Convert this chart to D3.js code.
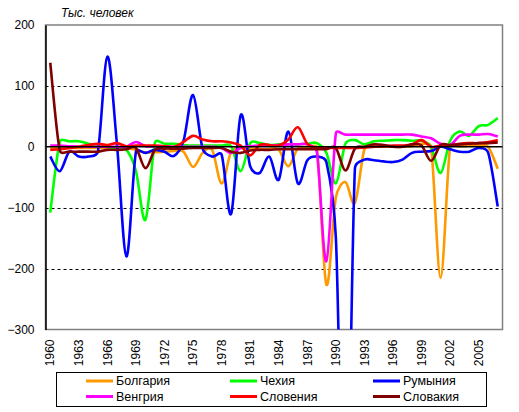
<!DOCTYPE html>
<html>
<head>
<meta charset="utf-8">
<script src="https://cdn.jsdelivr.net/npm/d3@7"></script>
<style>
  body { margin: 0; background: #fff; }
  svg { display: block; font-family: "Liberation Sans", Arial, sans-serif; }
</style>
</head>
<body>
<div id="chart"></div>
<script>
// data, thousands of people

const years = d3.range(1960, 2008)

const bulgaria = [ -2, -2, -2, -2, -2, -2, -2, -2, -2, -5, -9, -9, -8, -7, -8, -33,
  -10, -5, -60, -8, -2, -3, -4, -4, -5, -32, -3, -2, -2, -226, -83, -58, -92, -4,
  0, 0, 0, 0, 1, 5, 0, -215, 0, 1, 2, 2, 0, -36 ]

const czech = [ -108, 8, 9, 9, 5, 1, 0, -4, -5, -40, -120, 7, 5, 5, 3, 2,
  2, 2, 2, 1, -40, 6, 6, 3, 4, 4, 4, 5, 6, -10, -60, 5, 11, 4, 9, 10,
  11, 11, 10, 10, 0, -43, 10, 25, 18, 34, 36, 47 ]

const romania = [ -16, -40, -8, -16, -16, -8, 148, 5, -180, -8, -10, -5, -8, -15, 10, 85,
  -3, -16, -13, -110, 52, -32, -43, -16, -54, 25, -60, -22, -16, -25, -150, -700,
  -35, -21, -22, -24, -25, -21, -10, -8, -7, 0, -4, -8, -8, -2, -10, -98 ]

const hungary = [ 2, 2, 1, 0, 0, 0, 0, 0, 0, 8, 1, 1, 1, 0, 0, 0,
  0, 0, -2, -10, -2, 1, 2, 2, 3, 4, 4, 4, -8, -188, 22, 20, 20, 20, 20, 20,
  20, 20, 20, 17, 14, 5, 3, 18, 20, 20, 21, 17 ]

const slovenia = [ -5, -4, -2, 0, 3, 5, 3, 6, 1, 2, 2, 2, 1, 0, 8, 18,
  12, 9, 9, 7, 2, -14, 3, 3, 2, 12, 32, 5, -2, -2, -2, -2, -2, -1, 0, 1,
  2, 2, 4, 11, 0, 2, 2, 5, 6, 6, 8, 11 ]

const slovakia = [ 138, -6, -8, -8, -8, -8, -5, -5, -4, -2, -35, -5, -3, -3, -3, -2,
  -2, -2, -2, -8, -10, -6, -5, -5, -4, -4, -4, -4, -4, -4, -2, -39, -3, 0, 4, 3,
  0, 0, 4, 2, -23, 3, 3, 4, 5, 6, 6, 7 ]

const series = [
  { name: 'Болгария', color: '#ff9900', values: bulgaria },
  { name: 'Чехия',    color: '#00ff00', values: czech },
  { name: 'Румыния',  color: '#0000ff', values: romania },
  { name: 'Венгрия',  color: '#ff00ff', values: hungary },
  { name: 'Словения', color: '#ff0000', values: slovenia },
  { name: 'Словакия', color: '#800000', values: slovakia }
]

const yTicks = [200, 100, 0, -100, -200, -300]
const xTicks = years.filter( (y) => (y - 1960) % 3 === 0 )

// layout

const W = 519, H = 412
const PLOT = { left: 45.5, right: 502.5, top: 25, bottom: 329.5 }

const x = d3.scalePoint()
  .domain(years)
  .range([PLOT.left, PLOT.right])
  .padding(0.5)

const y = d3.scaleLinear()
  .domain([-300, 200])
  .range([PLOT.bottom, PLOT.top])

// spreadsheet-like smoothing: bezier arms of (next - prev) / 6,
// shortened when the neighbouring segment is much shorter (keeps flats flat)
function smoothPath(pts) {
  const p = d3.path()
  const n = pts.length
  const K = 0.5
  const clamp = (v, max) => {
    let len = Math.hypot(v[0], v[1])
    return len > max ? [v[0] * max / len, v[1] * max / len] : v
  }
  p.moveTo(pts[0][0], pts[0][1])
  for (let i = 0; i < n - 1; i++) {
    let p0 = pts[Math.max(i - 1, 0)], p1 = pts[i], p2 = pts[i + 1], p3 = pts[Math.min(i + 2, n - 1)]
    let seg = Math.hypot(p2[0] - p1[0], p2[1] - p1[1])
    let a = clamp([(p2[0] - p0[0]) / 6, (p2[1] - p0[1]) / 6], seg * K)
    let b = clamp([(p3[0] - p1[0]) / 6, (p3[1] - p1[1]) / 6], seg * K)
    p.bezierCurveTo(p1[0] + a[0], p1[1] + a[1], p2[0] - b[0], p2[1] - b[1], p2[0], p2[1])
  }
  return p.toString()
}

const svg = d3.select('#chart').append('svg')
  .attr('width', W)
  .attr('height', H)

svg.append('defs').append('clipPath').attr('id', 'plot-clip')
  .append('rect')
    .attr('x', PLOT.left).attr('y', PLOT.top)
    .attr('width', PLOT.right - PLOT.left)
    .attr('height', PLOT.bottom - PLOT.top)

// frame
svg.append('rect')
  .attr('x', PLOT.left).attr('y', PLOT.top)
  .attr('width', PLOT.right - PLOT.left)
  .attr('height', PLOT.bottom - PLOT.top)
  .attr('fill', 'none')
  .attr('stroke', '#808080')
  .attr('stroke-width', 1.5)

// dashed grid
svg.append('g')
  .selectAll('line')
  .data(yTicks.filter( (d) => d !== 0 && d !== 200 && d !== -300 ))
  .join('line')
    .attr('x1', PLOT.left).attr('x2', PLOT.right)
    .attr('y1', (d) => Math.round(y(d)) + 0.5)
    .attr('y2', (d) => Math.round(y(d)) + 0.5)
    .attr('stroke', '#000')
    .attr('stroke-dasharray', '3,3')

// value axis
const yAxis = svg.append('g')
  .attr('transform', 'translate(' + PLOT.left + ',0)')
  .call(d3.axisLeft(y).tickValues(yTicks).tickSize(0).tickPadding(11))
yAxis.select('.domain').attr('stroke', '#000').attr('stroke-width', 1.5)
yAxis.selectAll('text').attr('font-size', 12).attr('fill', '#000')
  .attr('font-family', '"Liberation Sans", Arial, sans-serif')

// category axis labels at the bottom, rotated
svg.append('g')
  .attr('font-size', 12)
  .selectAll('text')
  .data(xTicks)
  .join('text')
    .attr('transform', (d) => 'translate(' + x(d) + ',' + (PLOT.bottom + 10) + ') rotate(-90)')
    .attr('text-anchor', 'end')
    .attr('dy', '0.35em')
    .text( (d) => d )

// lines
svg.append('g')
  .attr('clip-path', 'url(#plot-clip)')
  .selectAll('path')
  .data(series)
  .join('path')
    .attr('d', (s) => smoothPath(s.values.map( (v, i) => [x(years[i]), y(v)] )))
    .attr('fill', 'none')
    .attr('stroke', (s) => s.color)
    .attr('stroke-width', 2.6)
    .attr('stroke-linejoin', 'round')

// category axis line at zero
svg.append('line')
  .attr('x1', PLOT.left).attr('x2', PLOT.right)
  .attr('y1', y(0)).attr('y2', y(0))
  .attr('stroke', '#000')
  .attr('stroke-width', 1.5)

// unit title
svg.append('text')
  .attr('x', 61).attr('y', 17)
  .attr('font-size', 12)
  .attr('font-style', 'italic')
  .text('Тыс. человек')

// legend
const legend = svg.append('g')
legend.append('rect')
  .attr('x', 56.5).attr('y', 372.5)
  .attr('width', 430).attr('height', 34)
  .attr('fill', '#fff')
  .attr('stroke', '#000')

const colX = [86, 230, 373]
const rowY = [381, 396.5]

const item = legend.selectAll('g.item')
  .data(series)
  .join('g')
    .attr('class', 'item')
    .attr('transform', (s, i) => 'translate(' + colX[i % 3] + ',' + rowY[Math.floor(i / 3)] + ')')

item.append('line')
  .attr('x1', 0).attr('x2', 27)
  .attr('stroke', (s) => s.color)
  .attr('stroke-width', 3)

item.append('text')
  .attr('x', 30)
  .attr('dy', '0.35em')
  .attr('font-size', 12.5)
  .text( (s) => s.name )
</script>
</body>
</html>
